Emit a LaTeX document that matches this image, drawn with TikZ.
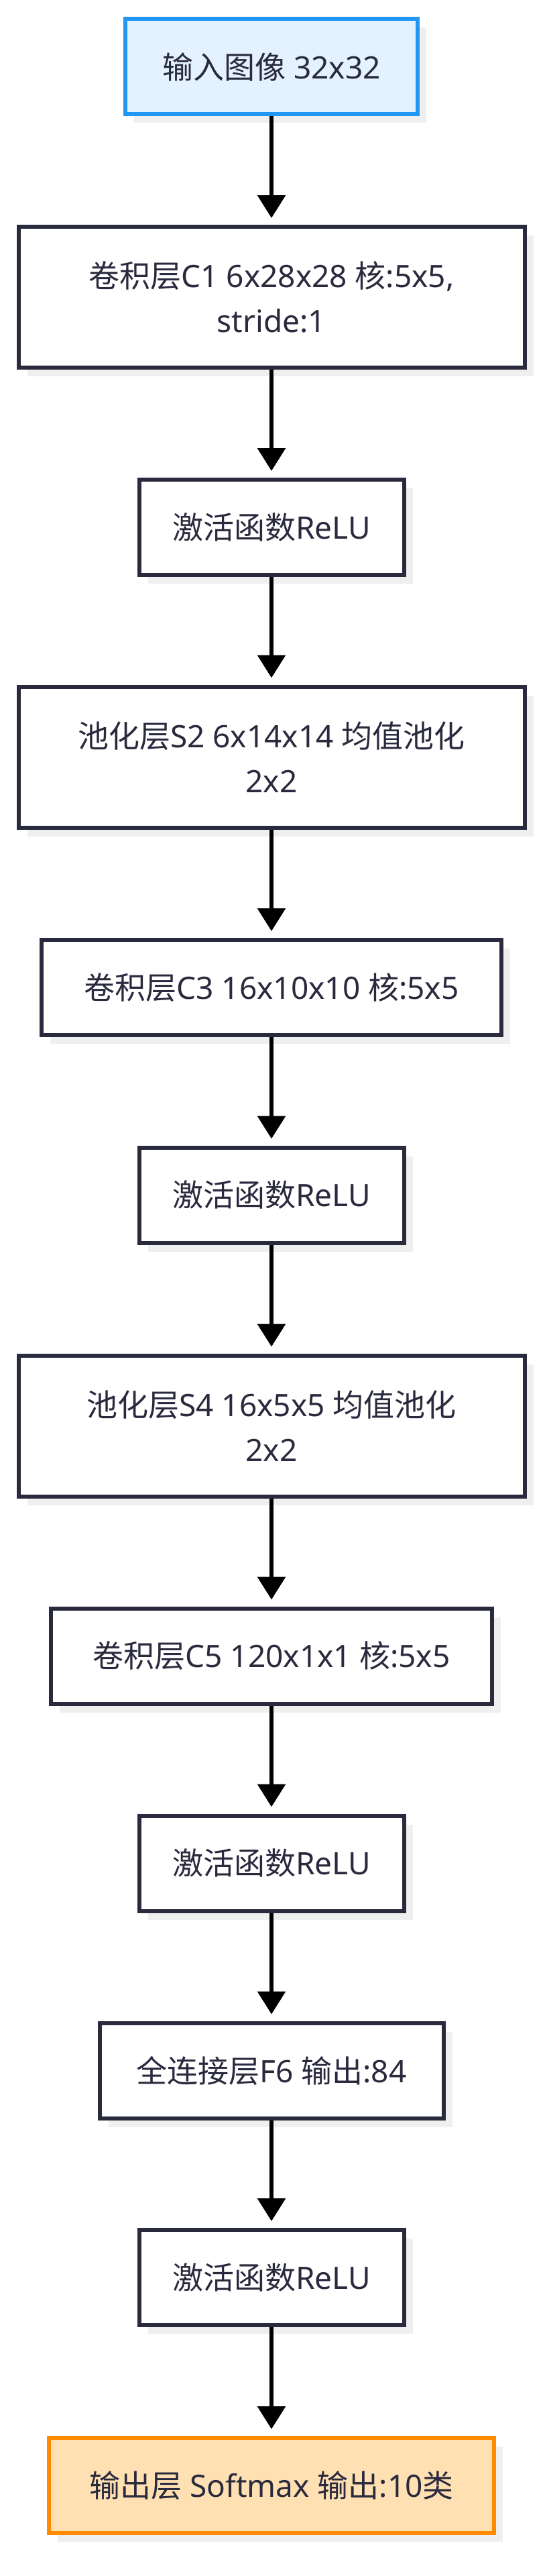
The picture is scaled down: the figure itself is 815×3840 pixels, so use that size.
\documentclass[tikz,border=0pt]{standalone}
\usepackage{fontspec}
\setmainfont{Noto Sans}
\newfontfamily\zhfont{Noto Sans CJK SC}
\newcommand{\zh}[1]{{\zhfont #1}}
\usepackage{xcolor}
\usetikzlibrary{arrows.meta,shadows}

\definecolor{ink}{HTML}{2A2A3E}
\definecolor{inblue}{HTML}{2196F3}
\definecolor{infill}{HTML}{E3F2FD}
\definecolor{outorange}{HTML}{FF8C00}
\definecolor{outfill}{HTML}{FFE0B2}
\definecolor{shadowgray}{HTML}{EFEFEF}

\tikzset{
  layer/.style={draw=ink, line width=6pt, fill=white, text=ink, align=center,
    minimum height=142pt, font=\fontsize{46}{67}\selectfont,
    drop shadow={shadow xshift=13pt, shadow yshift=-13pt, fill=shadowgray, opacity=1}},
  twoline/.style={minimum height=210pt},
  flow/.style={draw=black, line width=6pt, shorten >=10pt,
    -{Triangle[width=41pt,length=34pt]}}
}

\begin{document}
\begin{tikzpicture}[x=1pt,y=-1pt]
\fill [white] (0,0) rectangle (815,3840);
\useasboundingbox (0,0) rectangle (815,3840);

\node [layer, draw=inblue, fill=infill, minimum width=436pt] (input) at (405,99.5) {\zh{输入图像} 32x32};
\node [layer, twoline, minimum width=755pt] (c1) at (405,443) {\zh{卷积层}C1 6x28x28 \zh{核}:5x5,\\stride:1};
\node [layer, minimum width=395pt] (relu1) at (405,786) {\zh{激活函数}ReLU};
\node [layer, twoline, minimum width=755pt] (s2) at (405,1128.5) {\zh{池化层}S2 6x14x14 \zh{均值池化}\\2x2};
\node [layer, minimum width=686pt] (c3) at (405,1472) {\zh{卷积层}C3 16x10x10 \zh{核}:5x5};
\node [layer, minimum width=395pt] (relu2) at (405,1781.5) {\zh{激活函数}ReLU};
\node [layer, twoline, minimum width=755pt] (s4) at (405,2125.5) {\zh{池化层}S4 16x5x5 \zh{均值池化}\\2x2};
\node [layer, minimum width=658pt] (c5) at (405,2468.5) {\zh{卷积层}C5 120x1x1 \zh{核}:5x5};
\node [layer, minimum width=395pt] (relu3) at (405,2777.5) {\zh{激活函数}ReLU};
\node [layer, minimum width=513pt] (f6) at (405,3086.5) {\zh{全连接层}F6 \zh{输出}:84};
\node [layer, minimum width=395pt] (relu4) at (405,3395) {\zh{激活函数}ReLU};
\node [layer, draw=outorange, fill=outfill, minimum width=664pt] (output) at (405,3705) {\zh{输出层} Softmax \zh{输出}:10\zh{类}};

\draw [flow] (input) -- (c1);
\draw [flow] (c1) -- (relu1);
\draw [flow] (relu1) -- (s2);
\draw [flow] (s2) -- (c3);
\draw [flow] (c3) -- (relu2);
\draw [flow] (relu2) -- (s4);
\draw [flow] (s4) -- (c5);
\draw [flow] (c5) -- (relu3);
\draw [flow] (relu3) -- (f6);
\draw [flow] (f6) -- (relu4);
\draw [flow] (relu4) -- (output);
\end{tikzpicture}
\end{document}
